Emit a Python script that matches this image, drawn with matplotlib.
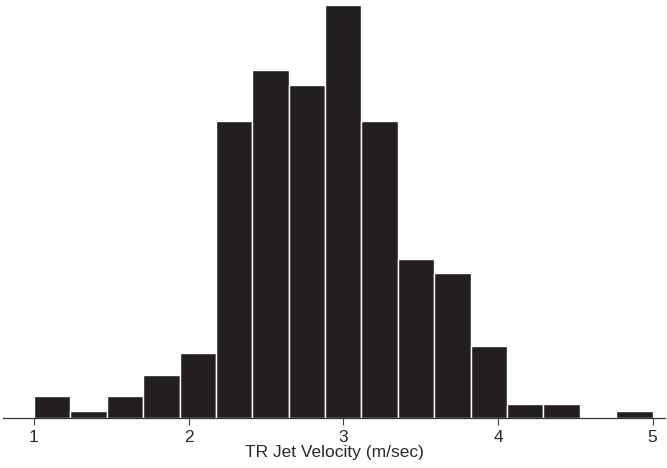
import numpy as np
import matplotlib
matplotlib.use('Agg')
import matplotlib.pyplot as plt

# histogram counts, 17 equal bins between 1 and 5 m/sec
bin_edges = np.linspace(1, 5, 18)
counts = [3, 1, 3, 6, 9, 41, 48, 46, 57, 41, 22, 20, 10, 2, 2, 0, 1]
tick_vals = [1, 2, 3, 4, 5]

plt.rcParams['font.family'] = ['Liberation Sans', 'DejaVu Sans']
dark = '#231f20'
txt = '#2a2a2a'

fig = plt.figure(figsize=(6.67, 4.68), dpi=100)
ax = fig.add_axes([3 / 667, (468 - 418) / 468, 662 / 667, 413 / 468])

ax.bar(bin_edges[:-1], counts, width=np.diff(bin_edges), align='edge',
       color=dark, edgecolor='white', linewidth=1.0)

ax.set_xlim(0.80, 5.08)
ax.set_ylim(0, 57)
ax.set_xticks(tick_vals)
ax.set_xticklabels([str(t) for t in tick_vals], fontsize=12.5, color=txt)
ax.tick_params(axis='x', direction='out', length=5, width=0.8, color='#444444', pad=3.5)
ax.set_yticks([])
for s in ['top', 'right', 'left']:
    ax.spines[s].set_visible(False)
ax.spines['bottom'].set_color('#333333')
ax.spines['bottom'].set_linewidth(0.9)

ax.set_xlabel('TR Jet Velocity (m/sec)', fontsize=12.5, color=txt, labelpad=0)

fig.savefig('out.png', dpi=100)
